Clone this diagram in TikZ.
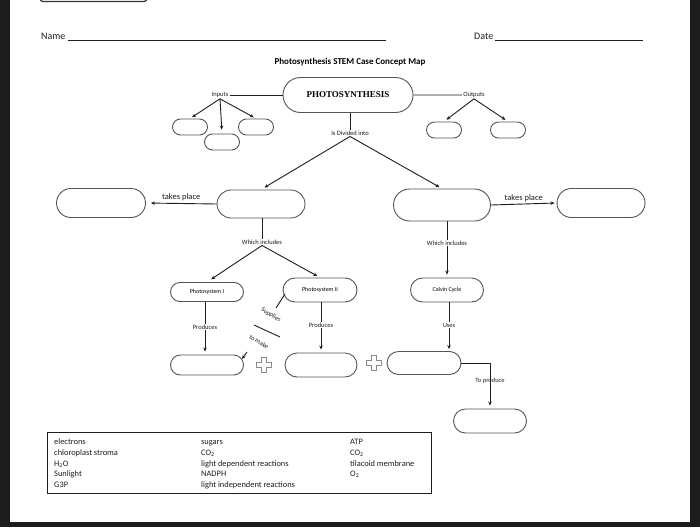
\documentclass[tikz,border=0pt]{standalone}
\usepackage{fontspec}
\setmainfont{Carlito}
\newfontfamily\psfont{Liberation Serif}
\usetikzlibrary{arrows.meta,shapes.misc}
\definecolor{frame}{HTML}{1C1C1C}
\definecolor{ink}{HTML}{1E1E1E}
\definecolor{pillc}{HTML}{555555}
\definecolor{plusc}{HTML}{8A8A8A}
\begin{document}
\begin{tikzpicture}[x=1pt,y=-1pt,
  pill/.style 2 args={shape=rounded rectangle, draw=pillc, line width=0.9pt, minimum width=#1, minimum height=#2, inner sep=0pt, fill=white},
  lbl/.style={font=\fontsize{6.5}{7}\selectfont, text=ink, inner sep=1pt},
  arr/.style={draw=ink, line width=0.9pt, -{Stealth[length=4pt,width=3.5pt]}},
  ln/.style={draw=ink, line width=0.9pt},
  bank/.style={font=\fontsize{8.4}{9}\selectfont, text=ink, anchor=base west, inner sep=0pt},
  plussign/.pic={\draw[plusc, line width=0.7pt, fill=white] (-2.5,-7.5) -- ++(5,0) -- ++(0,5) -- ++(5,0) -- ++(0,5) -- ++(-5,0) -- ++(0,5) -- ++(-5,0) -- ++(0,-5) -- ++(-5,0) -- ++(0,-5) -- ++(5,0) -- cycle;}
]
\useasboundingbox (0,0) rectangle (700,527);
\fill[frame] (0,0) rectangle (700,527);
\fill[white] (10,-5) rectangle (690,522);
\draw[pillc!60!black, line width=1.2pt, rounded corners=3pt, fill=white] (40,-10) rectangle (147,1.5);

% header
\node[anchor=base west, font=\fontsize{10}{12}\selectfont, text=ink, inner sep=0pt] (name) at (41,39.5) {Name};
\draw[ink, line width=0.6pt] ([xshift=2pt,yshift=-1pt]name.base east) -- ++(318,0);
\node[anchor=base west, font=\fontsize{10}{12}\selectfont, text=ink, inner sep=0pt] (date) at (474,39.5) {Date};
\draw[ink, line width=0.6pt] ([xshift=2pt,yshift=-1pt]date.base east) -- ++(148,0);
\node[font=\bfseries\fontsize{9}{11}\selectfont, text=black] (title) at (350,62) {Photosynthesis STEM Case Concept Map};

% top
\node[pill={130pt}{35pt}, font=\psfont\bfseries\fontsize{9}{11}\selectfont] (ps) at (348,95) {PHOTOSYNTHESIS};
\node[lbl] (inputs) at (220,95) {Inputs};
\node[lbl] (outputs) at (474,95) {Outputs};
\draw[ln] (inputs) -- (ps);
\draw[ln] (ps) -- (outputs);
\node[pill={35pt}{16pt}] (in1) at (190,127) {};
\node[pill={35pt}{16pt}] (in2) at (222,142) {};
\node[pill={35pt}{16pt}] (in3) at (256,127) {};
\node[pill={35pt}{16pt}] (out1) at (444,130) {};
\node[pill={35pt}{16pt}] (out2) at (508,130) {};
\draw[arr, shorten >=2.5pt] (inputs.south) -- (in1.north);
\draw[arr, shorten >=4pt] (inputs.south) -- (in2.north);
\draw[arr, shorten >=2.5pt] (inputs.south) -- (in3.north);
\draw[arr, shorten >=3pt] (outputs.south) -- (out1.north);
\draw[arr, shorten >=3pt] (outputs.south) -- (out2.north);

% divided
\node[lbl] (div) at (350,133) {Is Divided into};
\draw[ln] (div.north |- ps.south) -- (div.north);
\node[pill={89pt}{29pt}] (ll) at (101,203) {};
\node[pill={88pt}{28pt}] (lmid) at (261,204) {};
\node[pill={97pt}{32pt}] (rmid) at (442,205) {};
\node[pill={88pt}{29pt}] (rr) at (601,203) {};
\draw[arr, shorten >=4pt] (div.south) -- (lmid.north);
\draw[arr, shorten >=3pt] (div.south) -- (rmid.north);
\draw[arr, shorten >=5pt] (lmid.west) -- node[above, font=\fontsize{8.5}{10}\selectfont, text=ink, inner sep=2pt] (tp1) {takes place} (ll.east);
\draw[arr, shorten >=2pt] (rmid.east) -- node[above, font=\fontsize{8.5}{10}\selectfont, text=ink, inner sep=2pt] (tp2) {takes place} (rr.west);

% which includes
\node[lbl] (wi1) at (262,242) {Which includes};
\node[lbl] (wi2) at (447,243) {Which includes};
\draw[ln] (wi1.north |- lmid.south) -- (wi1.north);
\draw[ln] (wi2.north |- rmid.south) -- (wi2.north);
\node[pill={73pt}{19pt}, font=\fontsize{6}{7}\selectfont] (ps1) at (207,292) {Photosystem I};
\node[pill={74pt}{24pt}, font=\fontsize{6}{7}\selectfont] (ps2) at (320,290) {Photosystem II};
\node[pill={73pt}{24pt}, font=\fontsize{6}{7}\selectfont] (calvin) at (447,290) {Calvin Cycle};
\draw[arr, shorten >=5pt] (wi1.south) -- (ps1.north);
\draw[arr, shorten >=3pt] (wi1.south) -- (ps2.north);
\draw[arr, shorten >=3pt] (wi2.south) -- (calvin.north);

% produces
\node[pill={73pt}{20pt}] (b1) at (207,365) {};
\node[pill={72pt}{24pt}] (b2) at (321,365) {};
\node[pill={74pt}{23pt}] (b3) at (424,363) {};
\node[pill={73pt}{24pt}] (b4) at (490,421) {};
\node[lbl] (pr1) at (205,327) {Produces};
\node[lbl] (pr2) at (321,325) {Produces};
\node[lbl] (uses) at (449,325) {Uses};
\draw[ln] (pr1.north |- ps1.south) -- (pr1.north);
\draw[arr, shorten >=3pt] (pr1.south) -- (pr1.south |- b1.north);
\draw[ln] (pr2.north |- ps2.south) -- (pr2.north);
\draw[arr, shorten >=3pt] (pr2.south) -- (pr2.south |- b2.north);
\draw[ln] (uses.north |- calvin.south) -- (uses.north);
\draw[arr, shorten >=2pt] (uses.south) -- (uses.south |- b3.north);
\draw[arr, shorten >=3pt] (b3.east) -| (b4.north);
\node[lbl] (tprod) at (490,381) {To produce};

% supplies / to make
\node[lbl, rotate=-32, inner sep=0pt] (sup) at (271,315) {Supplies};
\node[lbl, rotate=-32, inner sep=0pt] (tomk) at (259,342) {to make};
\coordinate (s1) at (285,294);
\coordinate (s2) at (276,308);
\coordinate (m1) at (254,325);
\coordinate (m2) at (280,337);
\coordinate (a1) at (247,352);
\coordinate (a2) at (242,359);
\draw[ln] (s1) -- (s2);
\draw[ln] (m1) -- (m2);
\draw[arr] (a1) -- (a2);

% plus signs
\pic at (264,365) {plussign};
\pic at (374,363) {plussign};

% word bank
\node[draw=ink, line width=1.4pt, minimum width=384pt, minimum height=61pt, anchor=north west, inner sep=0pt] (bankbox) at (47,432) {};
\node[bank] (w1) at (54,444) {electrons};
\node[bank] (w2) at (54,455) {chloroplast stroma};
\node[bank] (w3) at (54,466) {H\textsubscript{2}O};
\node[bank] (w4) at (54,476.5) {Sunlight};
\node[bank] (w5) at (54,487.5) {G3P};
\node[bank] (w6) at (201,444) {sugars};
\node[bank] (w7) at (201,455) {CO\textsubscript{2}};
\node[bank] (w8) at (201,466) {light dependent reactions};
\node[bank] (w9) at (201,476.5) {NADPH};
\node[bank] (w10) at (201,487.5) {light independent reactions};
\node[bank] (w11) at (350,444) {ATP};
\node[bank] (w12) at (350,455) {CO\textsubscript{2}};
\node[bank] (w13) at (350,466) {tilacoid membrane};
\node[bank] (w14) at (350,476.5) {O\textsubscript{2}};
\end{tikzpicture}
\end{document}
